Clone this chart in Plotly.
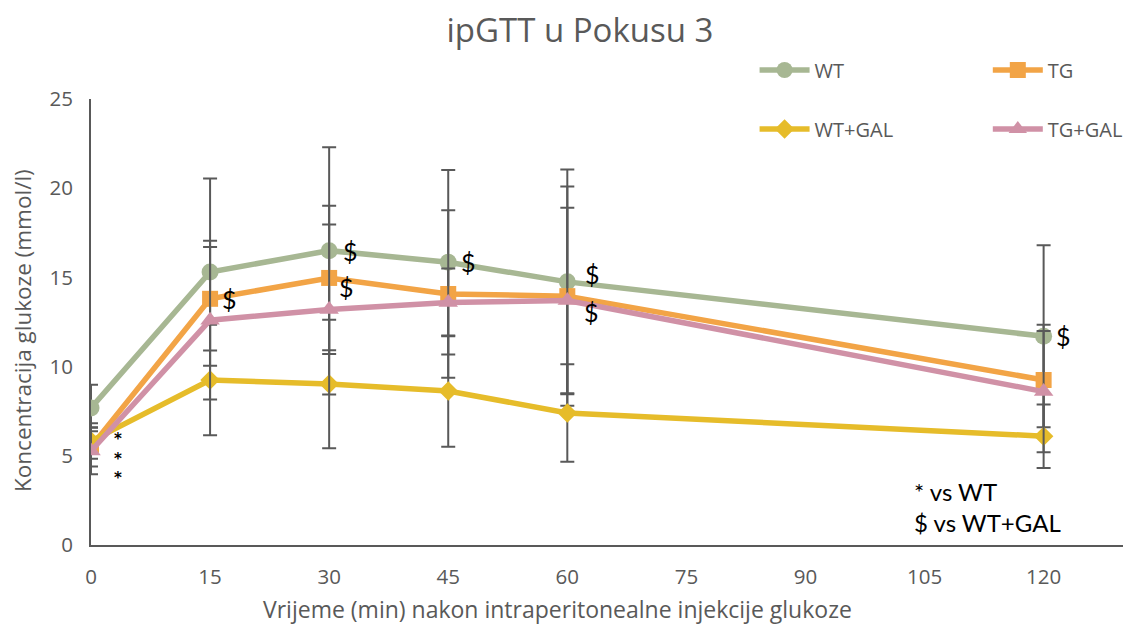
import plotly.graph_objects as go

time_min = [0, 15, 30, 45, 60, 120]

wt = [7.68, 15.3, 16.5, 15.85, 14.75, 11.7]
wt_err = [1.3, 5.25, 5.8, 5.17, 6.3, 5.1]

tg = [5.5, 13.8, 14.97, 14.07, 13.95, 9.25]
tg_err = [1.1, 2.9, 4.05, 4.7, 6.15, 3.1]

wt_gal = [5.83, 9.25, 9.02, 8.63, 7.4, 6.1]
wt_gal_err = [1.0, 3.1, 3.6, 3.12, 2.73, 1.78]

tg_gal = [5.27, 12.6, 13.2, 13.6, 13.7, 8.6]
tg_gal_err = [1.3, 4.45, 4.77, 1.9, 5.2, 3.4]

series_names = ["WT", "TG", "WT+GAL", "TG+GAL"]
x_ticks = [0, 15, 30, 45, 60, 75, 90, 105, 120]

x_title = "Vrijeme (min) nakon intraperitonealne injekcije glukoze"
y_title = "Koncentracija glukoze (mmol/l)"
chart_title = "ipGTT u Pokusu 3"

# significance marks: (series, time index, symbol, xshift, yshift)
sig_marks = [
    ("TG", 1, "$", 19, 0),
    ("WT", 2, "$", 21, 0),
    ("TG", 2, "$", 17, -9),
    ("WT", 3, "$", 20, 0),
    ("WT", 4, "$", 25, 8),
    ("TG+GAL", 4, "$", 24, -11),
    ("WT", 5, "$", 20, 0),
]
star_mark = ("TG+GAL", 0, "<b>*<br>*<br>*</b>", 27, -8)

data = {"WT": (wt, wt_err), "TG": (tg, tg_err), "WT+GAL": (wt_gal, wt_gal_err), "TG+GAL": (tg_gal, tg_gal_err)}
styles = {
    "WT": dict(color="#A7B793", symbol="circle", size=17),
    "TG": dict(color="#F2A446", symbol="square", size=16),
    "WT+GAL": dict(color="#E6BC2A", symbol="diamond", size=15),
    "TG+GAL": dict(color="#D091A6", symbol="triangle-up", size=17),
}
legend_of = {"WT": "legend", "TG": "legend2", "WT+GAL": "legend3", "TG+GAL": "legend4"}
legend_pos = {"legend": (0.643, 1.065), "legend2": (0.869, 1.065),
              "legend3": (0.643, 0.933), "legend4": (0.869, 0.933)}

fig = go.Figure()
for name in series_names:
    vals, errs = data[name]
    st = styles[name]
    fig.add_trace(go.Scatter(
        x=time_min, y=vals, name=name, mode="lines+markers",
        line=dict(color=st["color"], width=5.5),
        marker=dict(color=st["color"], symbol=st["symbol"], size=st["size"]),
        error_y=dict(type="data", array=errs, visible=True, color="#595959", thickness=2, width=7),
        legend=legend_of[name], showlegend=True,
    ))

annotations = []
for sname, idx, sym, xs, ys in sig_marks:
    annotations.append(dict(
        x=time_min[idx], y=data[sname][0][idx], xref="x", yref="y",
        text=sym, showarrow=False, xanchor="center", yanchor="middle",
        xshift=xs, yshift=ys,
        font=dict(family="Lato, Liberation Sans", size=25, color="#000000"),
    ))
sname, idx, sym, xs, ys = star_mark
annotations.append(dict(
    x=time_min[idx], y=data[sname][0][idx], xref="x", yref="y",
    text=sym, showarrow=False, xanchor="center", yanchor="middle",
    xshift=xs, yshift=ys, borderpad=0,
    font=dict(family="DejaVu Sans", size=15, color="#000000"),
))
annotations.append(dict(
    x=0.7953, y=0.085, xref="paper", yref="paper", text="* vs WT<br>$ vs WT+GAL",
    showarrow=False, xanchor="left", yanchor="middle", align="left",
    font=dict(family="Lato, Liberation Sans", size=24, color="#000000"),
))
annotations.append(dict(
    x=0.4525, y=-0.1435, xref="paper", yref="paper", text=x_title,
    showarrow=False, xanchor="center", yanchor="middle", borderpad=0,
    font=dict(family="Open Sans", size=23, color="#595959"),
))
annotations.append(dict(
    x=-0.0669, y=0.482, xref="paper", yref="paper", text=y_title, textangle=-90,
    showarrow=False, xanchor="center", yanchor="middle",
    font=dict(family="Open Sans", size=22.5, color="#595959"),
))

legend_layouts = {}
for lg, (lx, ly) in legend_pos.items():
    legend_layouts[lg] = dict(x=lx, y=ly, orientation="h", xanchor="left", yanchor="middle",
                              font=dict(family="Open Sans", size=20, color="#595959"),
                              bgcolor="rgba(0,0,0,0)", itemwidth=50)

fig.update_layout(
    width=1127, height=617,
    margin=dict(l=83, r=12, t=91, b=80, autoexpand=False),
    paper_bgcolor="white", plot_bgcolor="white",
    showlegend=True,
    title=dict(text=chart_title, x=0.5075, xanchor="center", y=0.964, yanchor="middle",
               font=dict(family="Open Sans", size=33, color="#595959")),
    annotations=annotations,
    xaxis=dict(range=[0, 130], tickvals=x_ticks, showgrid=False, zeroline=False,
               showline=True, linecolor="#595959", linewidth=2, ticks="",
               ticklabelstandoff=12,
               tickfont=dict(family="Open Sans", size=20.5, color="#595959")),
    yaxis=dict(range=[0, 25], dtick=5, showgrid=False, zeroline=False,
               showline=True, linecolor="#595959", linewidth=2, ticks="",
               ticklabelstandoff=12,
               tickfont=dict(family="Open Sans", size=20.5, color="#595959")),
    **legend_layouts,
)

fig.write_html("out.html")
